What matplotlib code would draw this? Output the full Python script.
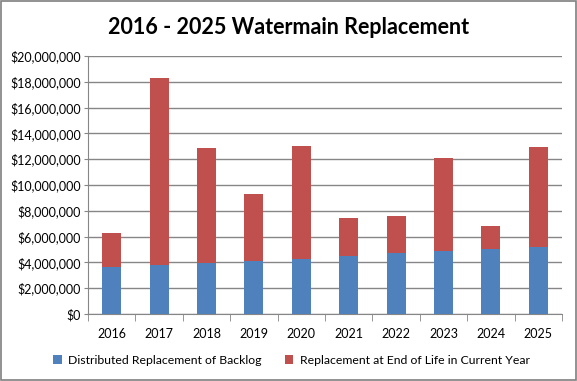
import numpy as np
import matplotlib.pyplot as plt
from matplotlib.ticker import FuncFormatter, FixedLocator

# Chart data
years = ['2016', '2017', '2018', '2019', '2020', '2021', '2022', '2023', '2024', '2025']
backlog = [3640000, 3820000, 3980000, 4130000, 4290000, 4520000, 4700000, 4850000, 5060000, 5220000]
totals = [6300000, 18320000, 12890000, 9330000, 13050000, 7470000, 7620000, 12120000, 6850000, 12970000]
end_of_life = [t - b for t, b in zip(totals, backlog)]

blue = '#4F81BD'
red = '#C0504D'
grid_col = '#868686'

plt.rcParams['font.family'] = ['Lato', 'DejaVu Sans']

fig = plt.figure(figsize=(5.77, 3.81), dpi=100)
ax = fig.add_axes([0.1525, 0.176, 0.8215, 0.677])

x = np.arange(len(years))
ax.bar(x, backlog, width=0.4, color=blue, label='Distributed Replacement of Backlog', zorder=3)
ax.bar(x, end_of_life, width=0.4, bottom=backlog, color=red,
       label='Replacement at End of Life in Current Year', zorder=3)

ax.set_xlim(-0.5, len(years) - 0.5)
ax.set_ylim(0, 20000000)
ax.set_yticks(np.arange(0, 20000001, 2000000))
ax.yaxis.set_major_formatter(FuncFormatter(lambda v, p: '${:,.0f}'.format(v)))
ax.yaxis.grid(True, color=grid_col, linewidth=1, zorder=0)

# category labels centred, tick marks between categories
ax.set_xticks(x)
ax.set_xticklabels(years)
ax.tick_params(axis='x', length=0, pad=10, labelsize=9)
ax.xaxis.set_minor_locator(FixedLocator(np.arange(-0.5, len(years), 1)))
ax.tick_params(axis='x', which='minor', length=5, color=grid_col, direction='out')
ax.tick_params(axis='y', length=3, color=grid_col, labelsize=9, pad=2)

for s in ['top', 'right']:
    ax.spines[s].set_visible(False)
for s in ['left', 'bottom']:
    ax.spines[s].set_color(grid_col)

fig.suptitle('2016 - 2025 Watermain Replacement', x=0.5, y=0.955,
             fontsize=15.5, fontweight='bold')

fig.legend(loc='center', bbox_to_anchor=(0.505, 0.055), ncol=2, frameon=False,
           fontsize=8.85, handlelength=0.7, handleheight=0.7, columnspacing=1.9,
           handletextpad=0.5)

# outer border of the chart area
fig.patches.append(plt.Rectangle((0.002, 0.003), 0.996, 0.994, transform=fig.transFigure,
                                 fill=False, edgecolor='#7F7F7F', linewidth=1.2))

fig.savefig('out.png', dpi=100)
